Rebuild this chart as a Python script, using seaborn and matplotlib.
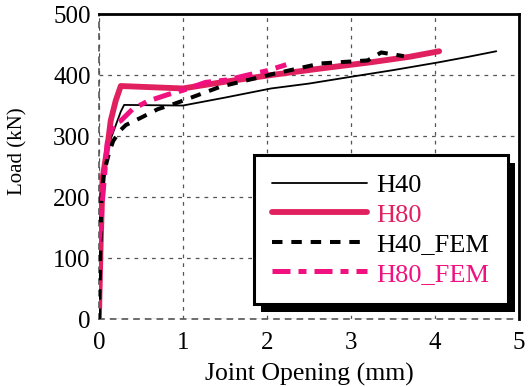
import matplotlib
matplotlib.use("Agg")
import matplotlib.pyplot as plt
import matplotlib.patches as mpatches
import seaborn as sns

h40_x = [0.0, 0.02, 0.04, 0.08, 0.14, 0.22, 0.26, 0.30, 1.00, 1.50, 2.05, 2.50, 3.04, 3.50, 4.05, 4.40, 4.73]
h40_y = [0, 150, 230, 262, 295, 325, 340, 351, 350, 363, 378, 386, 398, 408, 421, 430, 439]

h80_x = [0.0, 0.02, 0.044, 0.10, 0.14, 0.20, 0.26, 1.00, 1.50, 2.05, 2.60, 3.24, 3.70, 4.05]
h80_y = [0, 120, 231, 281, 325, 358, 382, 378, 389, 400, 410, 421, 430, 439]

h40f_x = [0.0, 0.03, 0.06, 0.12, 0.17, 0.26, 0.32, 0.50, 0.70, 0.90, 1.00, 1.45, 2.05, 2.64, 3.20, 3.36, 3.63]
h40f_y = [0, 200, 240, 272, 292, 310, 318, 330, 344, 353, 358, 381, 401, 419, 424, 437, 431]

h80f_x = [0.0, 0.0, 0.10, 0.18, 0.26, 0.40, 0.58, 0.82, 1.00, 1.27, 1.53, 1.77, 2.00, 2.23]
h80f_y = [0, 250, 290, 320, 325, 344, 357, 368, 375, 388, 392, 400, 407, 417]

labels = ['H40', 'H80', 'H40_FEM', 'H80_FEM']
colors = ['black', '#E0205F', 'black', '#F0107F']

sns.set_theme(style="white")
plt.rcParams['font.family'] = ['Liberation Serif', 'DejaVu Serif']

fig = plt.figure(figsize=(5.29, 3.87), dpi=100)
ax = fig.add_axes([0.187, 0.1757, 0.794, 0.788])

sns.lineplot(x=h40_x, y=h40_y, ax=ax, sort=False, color=colors[0], lw=1.3, label=labels[0], zorder=3)
sns.lineplot(x=h80_x, y=h80_y, ax=ax, sort=False, color=colors[1], lw=4.2, label=labels[1], zorder=4)
sns.lineplot(x=h40f_x, y=h40f_y, ax=ax, sort=False, color=colors[2], lw=2.9, label=labels[2], zorder=5)
sns.lineplot(x=h80f_x, y=h80f_y, ax=ax, sort=False, color=colors[3], lw=3.6, label=labels[3], zorder=6)
lines = ax.get_lines()
lines[2].set_dashes([2.6, 2.2])
lines[3].set_dashes([3.6, 1.6, 1.6, 1.6])

ax.set_xlim(0, 5)
ax.set_ylim(0, 500)
ax.set_xticks([0, 1, 2, 3, 4, 5])
ax.set_yticks([0, 100, 200, 300, 400, 500])
ax.grid(True, color='#555555', linestyle=(0, (3, 4)), linewidth=0.9)
for k, s in ax.spines.items():
    if k in ('top', 'right'):
        s.set_color('black')
        s.set_linewidth(2)
    else:
        s.set_color('#555555')
        s.set_linestyle((0, (3, 4)))
        s.set_linewidth(1.2)
ax.tick_params(axis='both', labelsize=18, colors='black', direction='in', length=0)
ax.tick_params(axis='y', pad=6)
ax.tick_params(axis='x', pad=9.5)
ax.set_xlabel('Joint Opening (mm)', fontsize=18.5, color='black', labelpad=6)
ax.set_ylabel('Load (kN)', fontsize=15, color='black')
ax.yaxis.set_label_coords(-0.171, 0.551)

leg = ax.legend(loc='lower right', bbox_to_anchor=(0.974, 0.049), borderaxespad=0, fontsize=19,
                frameon=True, fancybox=False, shadow=False, handlelength=3.6,
                borderpad=0.7, labelspacing=0.23, handletextpad=0.35)
leg.get_frame().set_edgecolor('black')
leg.get_frame().set_linewidth(2.2)
leg.get_frame().set_alpha(1)
leg.set_zorder(10)
for t, c in zip(leg.get_texts(), colors):
    t.set_color(c)

fig.canvas.draw()
bb = leg.get_window_extent()
shadow = mpatches.Rectangle((bb.x0 + 7, bb.y0 - 8), bb.width, bb.height, transform=None,
                            facecolor='black', edgecolor='none', zorder=9)
ax.add_artist(shadow)

fig.savefig('out.png', dpi=100)
